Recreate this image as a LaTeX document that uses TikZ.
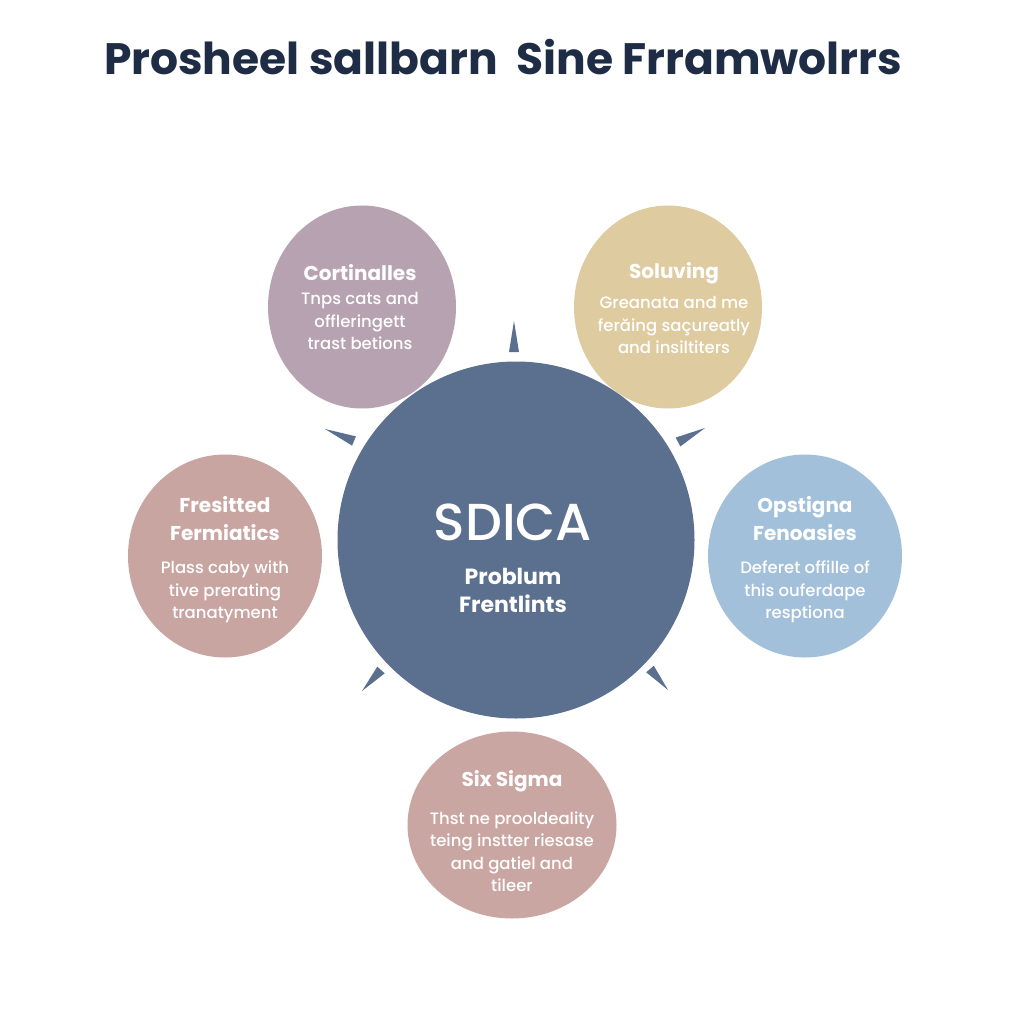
\documentclass[tikz,border=0pt]{standalone}
\usepackage{fontspec}
\setmainfont{Poppins}
\newfontfamily\popmed{Poppins Medium}
\usetikzlibrary{shapes.geometric,calc}
\definecolor{mainc}{RGB}{91,111,142}
\definecolor{mauvec}{RGB}{183,162,178}
\definecolor{tanc}{RGB}{223,203,160}
\definecolor{rosec}{RGB}{201,165,162}
\definecolor{bluec}{RGB}{163,192,219}
\definecolor{rose2c}{RGB}{202,166,163}
\definecolor{titlec}{RGB}{30,45,69}
\tikzset{
  blob/.style={ellipse, draw=none, inner sep=0pt},
  head/.style={text=white, font=\bfseries\fontsize{20}{28}\selectfont, align=center, inner sep=0pt},
  body/.style={text=white, font=\popmed\fontsize{16.5}{22.5}\selectfont, align=center, inner sep=0pt},
  spikec/.style={fill=mainc}
}
\newcommand{\myspike}[2]{%
  \fill[spikec] (#2) -- ($(#1)!5pt!90:(#2)$) -- ($(#1)!5pt!-90:(#2)$) -- cycle;}
\begin{document}
\begin{tikzpicture}[x=1pt,y=-1pt]
\useasboundingbox[fill=white] (0,0) rectangle (1024,1024);
% title
\node[text=titlec, font=\bfseries\fontsize{44}{50}\selectfont, inner sep=0pt] (title) at (503,57) {Prosheel sallbarn\ \ Sine Frramwolrrs};
% circles
\node[blob, fill=mauvec, minimum width=188, minimum height=203] (c1) at (362,307) {};
\node[blob, fill=tanc, minimum width=188, minimum height=203] (c2) at (668,307) {};
\node[blob, fill=rosec, minimum width=194, minimum height=203] (c3) at (225,556) {};
\node[blob, fill=bluec, minimum width=194, minimum height=203] (c4) at (805,556) {};
\node[blob, fill=rose2c, minimum width=209, minimum height=187] (c5) at (512,825) {};
\node[circle, fill=mainc, minimum size=357, inner sep=0pt] (main) at (516,540) {};
% spikes
\coordinate (s1b) at (514,352); \coordinate (s1t) at (514,321);
\coordinate (s2b) at (354,441); \coordinate (s2t) at (325,429);
\coordinate (s3b) at (678,442); \coordinate (s3t) at (705,428);
\coordinate (s4b) at (381,670); \coordinate (s4t) at (362,691);
\coordinate (s5b) at (650,669); \coordinate (s5t) at (668,690);
\myspike{s1b}{s1t}
\myspike{s2b}{s2t}
\myspike{s3b}{s3t}
\myspike{s4b}{s4t}
\myspike{s5b}{s5t}
% texts
\node[text=white, font=\popmed\fontsize{52}{60}\selectfont, inner sep=0pt] (t0) at (513,522) {SDICA};
\node[text=white, font=\bfseries\fontsize{22}{28}\selectfont, align=center, inner sep=0pt] (t0b) at (513,590) {Problum\\Frentlints};
\node[head] (h1) at (360,273) {Cortinalles};
\node[body] (b1) at (360,321) {Tnps cats and\\offleringett\\trast betions};
\node[head] (h2) at (674,273) {Soluving};
\node[body] (b2) at (674,325) {Greanata and me\\ferăing saçureatly\\and insiltiters};
\node[head] (h3) at (225,519) {Fresitted\\Fermiatics};
\node[body] (b3) at (225,592) {Plass caby with\\tive prerating\\tranatyment};
\node[head] (h4) at (805,519) {Opstigna\\Fenoasies};
\node[body] (b4) at (805,592) {Deferet offille of\\this ouferdape\\resptiona};
\node[head] (h5) at (512,781) {Six Sigma};
\node[body] (b5) at (512,851.5) {Thst ne prooldeality\\teing instter riesase\\and gatiel and\\tileer};
\end{tikzpicture}
\end{document}
